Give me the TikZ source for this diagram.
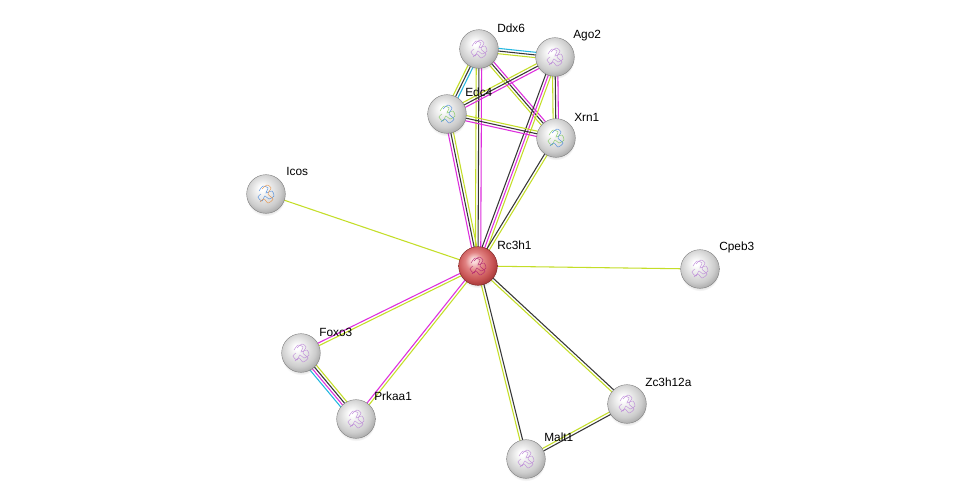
\documentclass[tikz,border=0pt]{standalone}
\usepackage{fontspec}
\setmainfont{Liberation Sans}
\usetikzlibrary{calc,backgrounds,shadows}
\pgfdeclarelayer{bgzero}
\pgfsetlayers{bgzero,background,main}
\definecolor{elime}{RGB}{196,222,40}
\definecolor{emag}{RGB}{221,45,221}
\definecolor{eblk}{RGB}{55,55,55}
\definecolor{ecyan}{RGB}{35,183,224}
\definecolor{sphA}{RGB}{255,255,255}
\definecolor{sphB}{RGB}{232,232,232}
\definecolor{sphC}{RGB}{205,205,205}
\definecolor{sphD}{RGB}{165,165,165}
\definecolor{sphE}{RGB}{125,125,125}
\definecolor{redA}{RGB}{250,220,220}
\definecolor{redB}{RGB}{225,130,130}
\definecolor{redC}{RGB}{200,85,85}
\definecolor{redD}{RGB}{160,50,50}
\definecolor{redE}{RGB}{120,30,30}
\definecolor{plav}{RGB}{185,130,215}
\definecolor{pmag}{RGB}{175,30,110}
\definecolor{pgrn}{RGB}{120,200,80}
\definecolor{pblu}{RGB}{60,130,220}
\definecolor{porg}{RGB}{230,140,60}
\pgfdeclareradialshading{graysphere}{\pgfpoint{-6bp}{8bp}}{color(0bp)=(sphA); color(3bp)=(sphA); color(12bp)=(sphB); color(22bp)=(sphC); color(30bp)=(sphD); color(36bp)=(sphE); color(50bp)=(sphE)}
\pgfdeclareradialshading{redsphere}{\pgfpoint{-6bp}{8bp}}{color(0bp)=(redA); color(3bp)=(redA); color(12bp)=(redB); color(22bp)=(redC); color(30bp)=(redD); color(36bp)=(redE); color(50bp)=(redE)}
\tikzset{
  prot/.style={circle, minimum size=29pt, inner sep=0pt, shading=graysphere, draw=sphE, line width=0.3pt,
     circular drop shadow={shadow xshift=0pt, shadow yshift=-1.8pt, opacity=0.2, shadow scale=1.02}},
  protred/.style={prot, shading=redsphere, draw=redE},
  lbl/.style={anchor=west, inner sep=0pt, font=\fontsize{8.9pt}{10pt}\selectfont, text=black},
  edge/.style={line width=0.8pt},
  squigline/.style={line width=0.35pt, opacity=0.85}
}
\newcommand\lnk[4]{%
  \foreach \cc [count=\ii] in {#4}{%
    \pgfmathsetmacro\oo{(\ii-(#3+1)/2)*2.0}%
    \draw[edge,\cc] ($(#1.center)!\oo pt!90:(#2.center)$) -- ($(#2.center)!\oo pt!-90:(#1.center)$);
  }}
\newcommand\squig[3]{%
  \draw[squigline,#2,shift={(#1.center)}] plot[smooth] coordinates {(-7,-3)(-3,-8)(2,-6)(0,-1)(6,-3)(8,2)(3,5)(-1,2)(-4,7)(-8,3)(-5,0)};
  \draw[squigline,#3,shift={(#1.center)}] plot[smooth] coordinates {(-4,-5)(1,-9)(5,-6)(2,0)(7,5)(2,9)(-2,5)(-6,8)};
}
\begin{document}
\begin{tikzpicture}[x=0.75pt,y=-0.75pt]
\begin{pgfonlayer}{bgzero}
\fill[white] (0,0) rectangle (976,504);
\end{pgfonlayer}
\useasboundingbox (0,0) rectangle (976,504);
% nodes
\node[prot] (ddx6) at (479,49) {};
\node[prot] (ago2) at (555,57) {};
\node[prot] (edc4) at (447,114) {};
\node[prot] (xrn1) at (556,138) {};
\node[prot] (icos) at (266,194) {};
\node[protred] (rc3h1) at (478,266) {};
\node[prot] (cpeb3) at (700,269) {};
\node[prot] (foxo3) at (301,353) {};
\node[prot] (prkaa1) at (356,419) {};
\node[prot] (zc3h12a) at (627,404) {};
\node[prot] (malt1) at (526,459) {};
% structure sketches inside the spheres
\squig{ddx6}{plav}{plav}
\squig{ago2}{plav}{plav}
\squig{edc4}{pgrn}{pblu}
\squig{xrn1}{pgrn}{pblu}
\squig{icos}{pblu}{porg}
\squig{rc3h1}{pmag}{pmag}
\squig{cpeb3}{plav}{plav}
\squig{foxo3}{plav}{plav}
\squig{prkaa1}{plav}{plav}
\squig{zc3h12a}{plav}{plav}
\squig{malt1}{plav}{plav}
% labels
\node[lbl] (ddx6l) at (497,28) {Ddx6};
\node[lbl] (ago2l) at (573,36) {Ago2};
\node[lbl] (edc4l) at (465,92) {Edc4};
\node[lbl] (xrn1l) at (574,117) {Xrn1};
\node[lbl] (icosl) at (286,171) {Icos};
\node[lbl] (rc3h1l) at (497,245) {Rc3h1};
\node[lbl] (cpeb3l) at (719,247) {Cpeb3};
\node[lbl] (foxo3l) at (319,332) {Foxo3};
\node[lbl] (prkaa1l) at (374,396) {Prkaa1};
\node[lbl] (zc3h12al) at (645,382) {Zc3h12a};
\node[lbl] (malt1l) at (544,437) {Malt1};
% edges
\begin{pgfonlayer}{background}
\lnk{ddx6}{ago2}{3}{elime,eblk,ecyan}
\lnk{ddx6}{edc4}{3}{elime,eblk,ecyan}
\lnk{ddx6}{rc3h1}{3}{elime,eblk,emag}
\lnk{ddx6}{xrn1}{3}{elime,eblk,emag}
\lnk{ago2}{edc4}{3}{elime,eblk,emag}
\lnk{ago2}{xrn1}{3}{elime,eblk,emag}
\lnk{ago2}{rc3h1}{3}{eblk,emag,elime}
\lnk{edc4}{xrn1}{3}{emag,eblk,elime}
\lnk{edc4}{rc3h1}{3}{emag,eblk,elime}
\lnk{xrn1}{rc3h1}{2}{eblk,elime}
\lnk{icos}{rc3h1}{1}{elime}
\lnk{cpeb3}{rc3h1}{1}{elime}
\lnk{foxo3}{rc3h1}{2}{elime,emag}
\lnk{prkaa1}{rc3h1}{2}{elime,emag}
\lnk{foxo3}{prkaa1}{4}{ecyan,emag,eblk,elime}
\lnk{rc3h1}{malt1}{2}{elime,eblk}
\lnk{rc3h1}{zc3h12a}{2}{elime,eblk}
\lnk{malt1}{zc3h12a}{2}{eblk,elime}
\end{pgfonlayer}
\end{tikzpicture}
\end{document}
